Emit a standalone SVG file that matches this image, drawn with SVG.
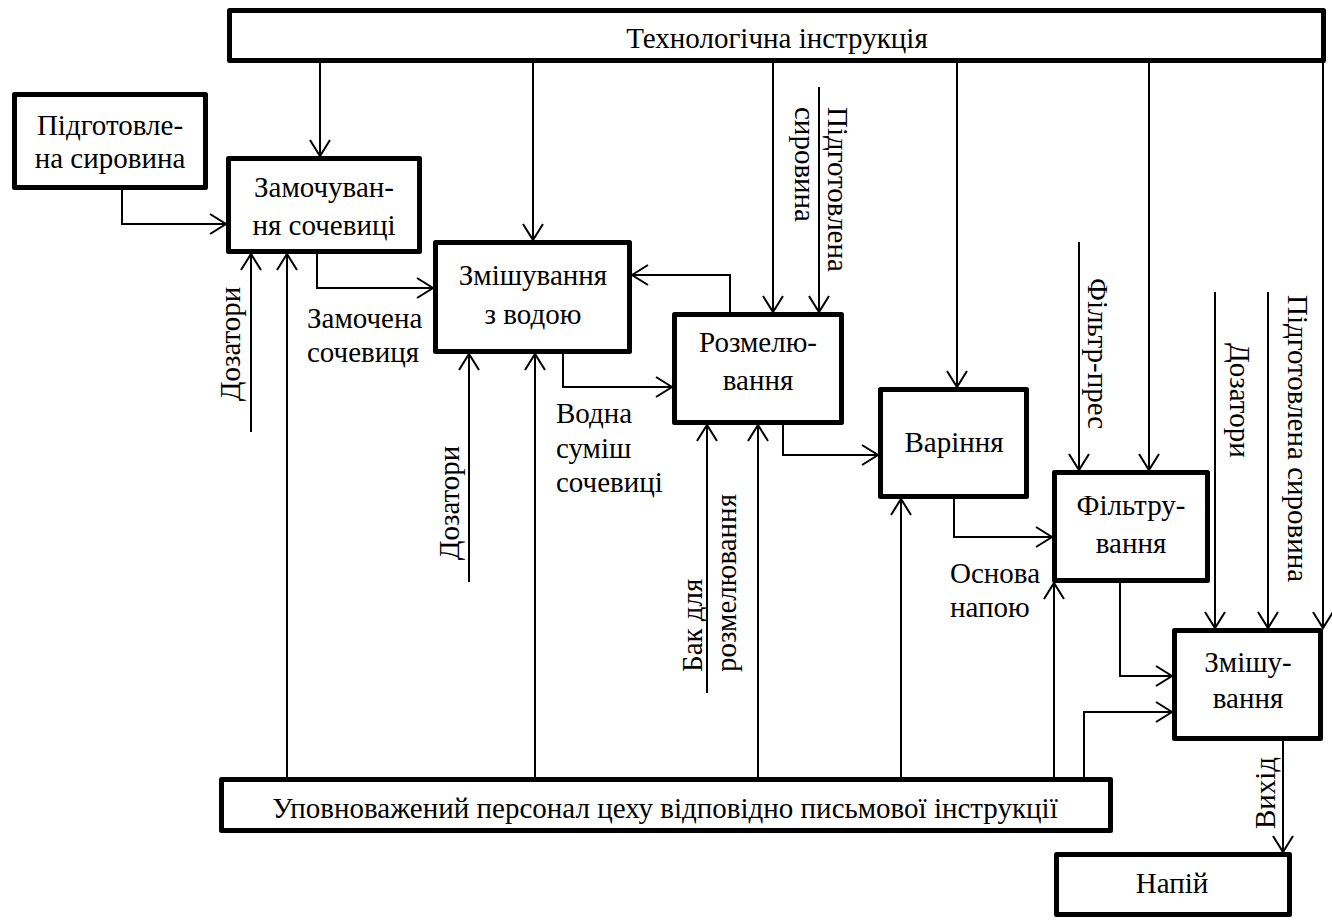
<svg xmlns="http://www.w3.org/2000/svg" width="1332" height="920" viewBox="0 0 1332 920" font-family="'Liberation Serif', 'Times New Roman', 'DejaVu Serif', serif">
<style>
.box{fill:#fff;stroke:#000;stroke-width:5;stroke-linejoin:round}
.ar{fill:none;stroke:#000;stroke-width:2;marker-end:url(#arr)}
text{font-family:'Liberation Serif','Times New Roman','DejaVu Serif',serif;font-size:29px;font-weight:normal;fill:#000}
.c{text-anchor:middle}
</style>
<defs>
<marker id="arr" markerWidth="20" markerHeight="24" refX="18" refY="12" orient="auto" markerUnits="userSpaceOnUse">
<path d="M2,2 L18,12 L2,22" fill="none" stroke="#000" stroke-width="2"/>
</marker>
</defs>
<g id="connectors">
<path class="ar" d="M320,63 V156"/>
<path class="ar" d="M122,190 V224 H226"/>
<path class="ar" d="M317,254 V288 H433"/>
<path class="ar" d="M251,432 V254"/>
<path class="ar" d="M287,777 V254"/>
<path class="ar" d="M533,63 V240"/>
<path class="ar" d="M730,312 V275 H632"/>
<path class="ar" d="M773,63 V312"/>
<path class="ar" d="M819,87 V312"/>
<path class="ar" d="M563,354 V387 H672"/>
<path class="ar" d="M469,582 V354"/>
<path class="ar" d="M535,777 V354"/>
<path class="ar" d="M707,693 V425"/>
<path class="ar" d="M758,777 V425"/>
<path class="ar" d="M783,425 V455 H878"/>
<path class="ar" d="M957,63 V387"/>
<path class="ar" d="M901,777 V499"/>
<path class="ar" d="M954,499 V537 H1052"/>
<path class="ar" d="M1079,242 V470"/>
<path class="ar" d="M1149,63 V470"/>
<path class="ar" d="M1054,777 V583"/>
<path class="ar" d="M1120,583 V676 H1172"/>
<path class="ar" d="M1215,292 V628"/>
<path class="ar" d="M1268,292 V628"/>
<path class="ar" d="M1323,63 V628"/>
<path class="ar" d="M1084,777 V712 H1172"/>
<path class="ar" d="M1283,741 V852"/>
</g>
<g id="labels" font-family="'Liberation Serif', serif">
<text transform="translate(240,344) rotate(-90)" class="c">Дозатори</text>
<text x="307" y="328">Замочена</text>
<text x="307" y="362">сочевиця</text>
<text transform="translate(459,503) rotate(-90)" class="c">Дозатори</text>
<text x="556" y="423">Водна</text>
<text x="556" y="458">суміш</text>
<text x="556" y="492">сочевиці</text>
<text transform="translate(795,107) rotate(90)">сировина</text>
<text transform="translate(828,107) rotate(90)">Підготовлена</text>
<text transform="translate(702,672) rotate(-90)">Бак для</text>
<text transform="translate(736,672) rotate(-90)">розмелювання</text>
<text x="950" y="583">Основа</text>
<text x="950" y="617">напою</text>
<text transform="translate(1088,278) rotate(90)">Фільтр-прес</text>
<text transform="translate(1230,343) rotate(90)">Дозатори</text>
<text transform="translate(1288,295) rotate(90)">Підготовлена сировина</text>
<text transform="translate(1275,793) rotate(-90)" class="c">Вихід</text>
</g>
<g id="top">
<rect class="box" x="229.5" y="10.5" width="1094" height="50"/>
<text x="777" y="48" class="c">Технологічна інструкція</text>
</g>
<g id="raw">
<rect class="box" x="14.5" y="94.5" width="191" height="93"/>
<text x="110" y="135" class="c">Підготовле-</text>
<text x="110" y="168" class="c">на сировина</text>
</g>
<g id="soak">
<rect class="box" x="228.5" y="158.5" width="191" height="93"/>
<text x="324" y="197" class="c">Замочуван-</text>
<text x="324" y="235" class="c">ня сочевиці</text>
</g>
<g id="mixwater">
<rect class="box" x="435.5" y="242.5" width="194" height="109"/>
<text x="533" y="285" class="c">Змішування</text>
<text x="533" y="324" class="c">з водою</text>
</g>
<g id="grind">
<rect class="box" x="674.5" y="314.5" width="167" height="108"/>
<text x="758" y="352" class="c">Розмелю-</text>
<text x="758" y="390" class="c">вання</text>
</g>
<g id="boil">
<rect class="box" x="880.5" y="389.5" width="146" height="107"/>
<text x="954" y="452" class="c">Варіння</text>
</g>
<g id="filter">
<rect class="box" x="1054.5" y="472.5" width="153" height="108"/>
<text x="1131" y="515" class="c">Фільтру-</text>
<text x="1131" y="553" class="c">вання</text>
</g>
<g id="mix">
<rect class="box" x="1174.5" y="630.5" width="146" height="108"/>
<text x="1248" y="672" class="c">Змішу-</text>
<text x="1248" y="708" class="c">вання</text>
</g>
<g id="drink">
<rect class="box" x="1056.5" y="854.5" width="233" height="60"/>
<text x="1172" y="893" class="c">Напій</text>
</g>
<g id="staff">
<rect class="box" x="221.5" y="779.5" width="889" height="51"/>
<text x="665" y="818" class="c">Уповноважений персонал цеху відповідно письмової інструкції</text>
</g>
</svg>
